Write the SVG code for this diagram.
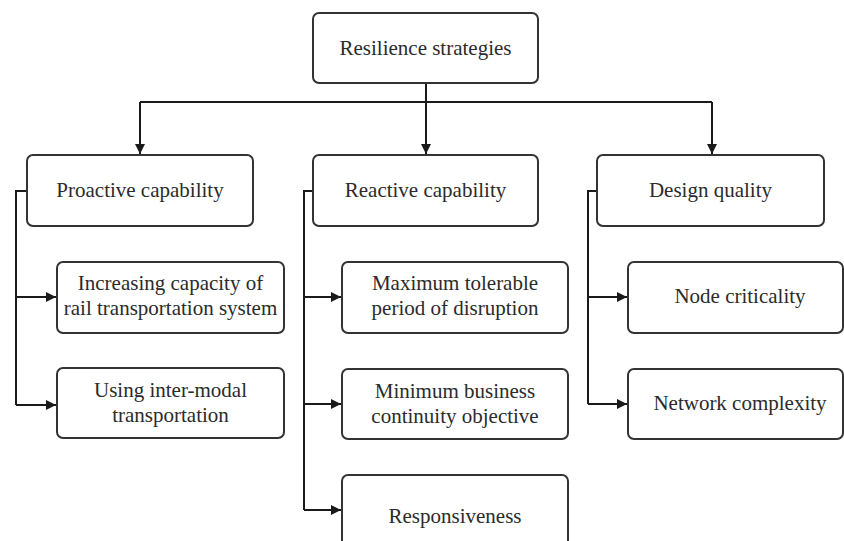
<svg xmlns="http://www.w3.org/2000/svg" width="844" height="541" viewBox="0 0 844 541">
  <style>
    .box { fill: #ffffff; stroke: #333333; stroke-width: 2; }
    .lbl { font-size: 21px; fill: #2b2b2b; text-anchor: middle; }
    .wire { fill: none; stroke: #1a1a1a; stroke-width: 2; }
  </style>
  <defs>
    <marker id="arrow" viewBox="0 0 10 10" refX="10" refY="5" markerWidth="10" markerHeight="10" markerUnits="userSpaceOnUse" orient="auto">
      <path d="M0,0 L10,5 L0,10 Z" fill="#1a1a1a"/>
    </marker>
  </defs>
  <rect width="844" height="541" fill="#ffffff"/>

  <g id="connectors">
    <!-- root to the three capability groups -->
    <path class="wire" d="M426,83 V102"/>
    <path class="wire" d="M140,102 H712"/>
    <path class="wire" d="M140,102 V154" marker-end="url(#arrow)"/>
    <path class="wire" d="M426,102 V154" marker-end="url(#arrow)"/>
    <path class="wire" d="M712,102 V154" marker-end="url(#arrow)"/>
    <!-- proactive branch -->
    <path class="wire" d="M27,191 H16 V405"/>
    <path class="wire" d="M16,297 H56" marker-end="url(#arrow)"/>
    <path class="wire" d="M16,405 H56" marker-end="url(#arrow)"/>
    <!-- reactive branch -->
    <path class="wire" d="M313,191 H304 V510"/>
    <path class="wire" d="M304,297 H341" marker-end="url(#arrow)"/>
    <path class="wire" d="M304,404 H341" marker-end="url(#arrow)"/>
    <path class="wire" d="M304,510 H341" marker-end="url(#arrow)"/>
    <!-- design branch -->
    <path class="wire" d="M597,191 H588 V404"/>
    <path class="wire" d="M588,297 H627" marker-end="url(#arrow)"/>
    <path class="wire" d="M588,404 H627" marker-end="url(#arrow)"/>
  </g>

  <g font-family="Liberation Serif, serif">
    <g id="resilience-strategies">
      <rect class="box" x="313" y="13" width="225" height="70" rx="6"/>
      <text class="lbl" x="425.5" y="54.5">Resilience strategies</text>
    </g>

    <g id="proactive-capability">
      <rect class="box" x="27" y="155" width="226" height="71" rx="6"/>
      <text class="lbl" x="140" y="197">Proactive capability</text>
    </g>
    <g id="increasing-capacity">
      <rect class="box" x="57" y="262" width="227" height="71" rx="6"/>
      <text class="lbl" x="170.5" y="290">Increasing capacity of</text>
      <text class="lbl" x="170.5" y="315">rail transportation system</text>
    </g>
    <g id="inter-modal">
      <rect class="box" x="57" y="368" width="227" height="70" rx="6"/>
      <text class="lbl" x="170.5" y="397">Using inter-modal</text>
      <text class="lbl" x="170.5" y="422">transportation</text>
    </g>

    <g id="reactive-capability">
      <rect class="box" x="313" y="155" width="225" height="71" rx="6"/>
      <text class="lbl" x="425.5" y="197">Reactive capability</text>
    </g>
    <g id="max-tolerable-period">
      <rect class="box" x="342" y="262" width="226" height="71" rx="6"/>
      <text class="lbl" x="455" y="290">Maximum tolerable</text>
      <text class="lbl" x="455" y="315">period of disruption</text>
    </g>
    <g id="min-business-continuity">
      <rect class="box" x="342" y="369" width="226" height="70" rx="6"/>
      <text class="lbl" x="455" y="398">Minimum business</text>
      <text class="lbl" x="455" y="423">continuity objective</text>
    </g>
    <g id="responsiveness">
      <rect class="box" x="342" y="475" width="226" height="73" rx="6"/>
      <text class="lbl" x="455" y="523">Responsiveness</text>
    </g>

    <g id="design-quality">
      <rect class="box" x="597" y="155" width="227" height="71" rx="6"/>
      <text class="lbl" x="710.5" y="197">Design quality</text>
    </g>
    <g id="node-criticality">
      <rect class="box" x="628" y="262" width="215" height="71" rx="6"/>
      <text class="lbl" x="740" y="303">Node criticality</text>
    </g>
    <g id="network-complexity">
      <rect class="box" x="628" y="369" width="215" height="70" rx="6"/>
      <text class="lbl" x="740" y="410">Network complexity</text>
    </g>
  </g>
</svg>
